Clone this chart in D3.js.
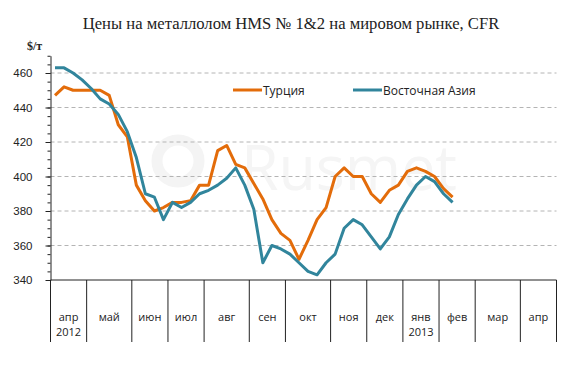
<!DOCTYPE html>
<html><head><meta charset="utf-8">
<script src="https://cdn.jsdelivr.net/npm/d3@7"></script>
<style>body{margin:0;background:#fff}svg{display:block}</style>
</head><body><svg id="c" width="580" height="380"></svg>
<script>
// ---- data ----
const title = "Цены на металлолом HMS № 1&2 на мировом рынке, CFR";
const unitLabel = "$/т";
const months = ["апр","май","июн","июл","авг","сен","окт","ноя","дек","янв","фев","мар","апр"];
const monthYears = ["2012","","","","","","","","","2013","","",""];
const weeksPerMonth = [4,5,4,4,5,4,5,4,4,4,4,5,4];
const seriesNames = ["Турция","Восточная Азия"];
const turkey = [447,452,450,450,450,450,447,430,423,395,386,380,382,385,385,386,395,395,415,418,407,405,396,387,375,367,363,352,363,375,382,400,405,400,400,390,385,392,395,403,405,403,400,393,388];
const eastAsia = [463,463,460,456,451,445,442,436,426,411,390,388,375,385,382,385,390,392,395,399,405,395,381,350,360,358,355,350,345,343,350,355,370,375,372,365,358,365,378,387,395,400,397,390,385];
const yTicks = [340,360,380,400,420,440,460];
const yMinorTicks = d3.range(340, 471, 5);
const gridValues = [360,380,400,420,440,460];

// ---- layout ----
const svg = d3.select("#c");
const pLeft = 50.5, pRight = 556.5, pTop = 55.75, pBottom = 280;
const nWeeks = d3.sum(weeksPerMonth);
const x = d3.scaleBand().domain(d3.range(nWeeks)).range([pLeft, pRight]).padding(0);
const y = d3.scaleLinear().domain([340, 470]).range([pBottom, pTop]);
const colors = ["#E36C0A", "#31859C"];
const bw = x.bandwidth();
const px = i => x(i) + bw / 2;

// watermark
svg.append("circle").attr("cx", 178).attr("cy", 161).attr("r", 21).attr("fill", "none")
  .attr("stroke", "#f4f4f4").attr("stroke-width", 11);
const wmt = svg.append("text").attr("x", 241).attr("y", 190).attr("font-family", "Open Sans, sans-serif")
  .attr("font-size", 62).attr("fill", "#f5f5f5").text("Rusmet");
const ww = wmt.node().getComputedTextLength();
if (ww > 0) wmt.attr("textLength", 216).attr("lengthAdjust", "spacingAndGlyphs");

// title
const t = svg.append("text").attr("x", 291).attr("y", 29).attr("text-anchor", "middle")
  .attr("font-family", "Liberation Serif, serif").attr("font-size", 16).attr("fill", "#222").text(title);
const tw = t.node().getComputedTextLength();
if (tw > 0) t.attr("font-size", 16 * 417 / tw);

svg.append("text").attr("x", 27).attr("y", 50).attr("font-family", "Liberation Serif, serif")
  .attr("font-weight", "bold").attr("font-size", 12).attr("fill", "#222").text(unitLabel);

// gridlines
svg.append("g").selectAll("line").data(gridValues).join("line")
  .attr("x1", pLeft).attr("x2", pRight).attr("y1", d => y(d)).attr("y2", d => y(d))
  .attr("stroke", "#b4b4b4").attr("stroke-width", 1).attr("stroke-dasharray", "4,3");

// y axis
const yMinor = svg.append("g").attr("transform", `translate(${pLeft},0)`)
  .call(d3.axisLeft(y).tickValues(yMinorTicks).tickSize(3).tickFormat(""));
yMinor.select(".domain").remove();
const yMajor = svg.append("g").attr("transform", `translate(${pLeft},0)`)
  .call(d3.axisLeft(y).tickValues(yTicks).tickSize(5).tickPadding(13).tickSizeOuter(0));
yMajor.selectAll("text").attr("font-family", "Liberation Sans Narrow, Liberation Sans, Arial, sans-serif")
  .attr("font-size", 11.5).attr("fill", "#222");
svg.selectAll(".tick line").attr("stroke", "#222");
yMajor.select(".domain").attr("stroke", "#222");

// x axis (multi-level month categories)
svg.append("line").attr("x1", pLeft).attr("x2", pRight).attr("y1", pBottom).attr("y2", pBottom)
  .attr("stroke", "#222").attr("stroke-width", 1);
const starts = [];
let acc = 0;
weeksPerMonth.forEach(w => { starts.push(acc); acc += w; });
const boundaries = starts.concat([nWeeks]);
svg.append("g").selectAll("line").data(boundaries).join("line")
  .attr("x1", d => d === nWeeks ? pRight : x(d)).attr("x2", d => d === nWeeks ? pRight : x(d))
  .attr("y1", pBottom).attr("y2", 342).attr("stroke", "#222").attr("stroke-width", 1);
const ml = svg.append("g").attr("font-family", "Open Sans, sans-serif").attr("font-size", 11).attr("fill", "#222").attr("text-anchor", "middle");
months.forEach((m, i) => {
  const x0 = x(starts[i]);
  const x1 = i + 1 < months.length ? x(starts[i + 1]) : pRight;
  const cx = (x0 + x1) / 2;
  ml.append("text").attr("x", cx).attr("y", 321).text(m);
  if (monthYears[i]) ml.append("text").attr("x", cx).attr("y", 336).text(monthYears[i]);
});

// lines
const line = d3.line().x((d, i) => px(i)).y(d => y(d));
[turkey, eastAsia].forEach((s, k) => {
  svg.append("path").datum(s).attr("d", line).attr("fill", "none")
    .attr("stroke", colors[k]).attr("stroke-width", 3).attr("stroke-linejoin", "round");
});

// legend
const legendX = [233, 353];
seriesNames.forEach((n, k) => {
  svg.append("line").attr("x1", legendX[k]).attr("x2", legendX[k] + 29).attr("y1", 90).attr("y2", 90)
    .attr("stroke", colors[k]).attr("stroke-width", 3);
  svg.append("text").attr("x", legendX[k] + 30).attr("y", 94.5).attr("font-family", "Open Sans, sans-serif")
    .attr("font-size", 12).attr("fill", "#222").text(n);
});
</script></body></html>
